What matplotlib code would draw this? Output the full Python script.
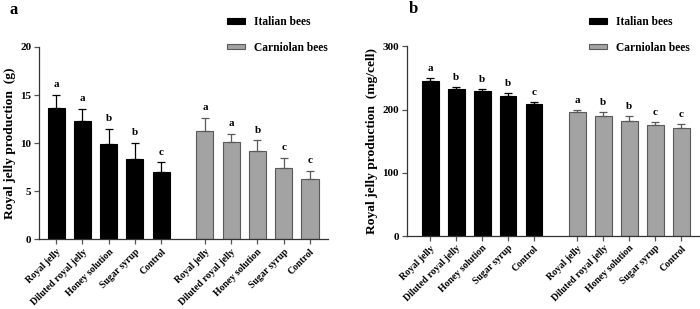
import numpy as np
import matplotlib
matplotlib.use("Agg")
import matplotlib.pyplot as plt

plt.rcParams['font.family'] = ['Liberation Serif', 'DejaVu Serif']
plt.rcParams['font.weight'] = 'bold'

treatments = ['Royal jelly', 'Diluted royal jelly', 'Honey solution', 'Sugar syrup', 'Control']

# panel a: royal jelly production (g)
a_italian = [13.7, 12.3, 9.9, 8.4, 7.05]
a_italian_err = [1.3, 1.3, 1.55, 1.6, 0.95]
a_italian_sig = ['a', 'a', 'b', 'b', 'c']
a_carniolan = [11.25, 10.1, 9.2, 7.4, 6.25]
a_carniolan_err = [1.35, 0.85, 1.1, 1.05, 0.9]
a_carniolan_sig = ['a', 'a', 'b', 'c', 'c']

# panel b: royal jelly production (mg/cell)
b_italian = [245.5, 232.5, 229.0, 222.0, 208.5]
b_italian_err = [4.0, 3.0, 4.0, 3.5, 3.0]
b_italian_sig = ['a', 'b', 'b', 'b', 'c']
b_carniolan = [196.5, 189.5, 181.5, 175.0, 170.5]
b_carniolan_err = [3.5, 6.0, 8.5, 6.0, 7.0]
b_carniolan_sig = ['a', 'b', 'b', 'c', 'c']

black = '#000000'
grey = '#a3a3a3'
grey_edge = '#5a5a5a'
axis_col = '#333333'

fig = plt.figure(figsize=(7.0, 3.09), dpi=100)

pos_it = np.arange(5)
pos_ca = np.arange(5) + 5.67


def draw_panel(ax, it, it_err, it_sig, ca, ca_err, ca_sig, ymax, step, ylabel, xlim, off):
    # only the upper half of the error bar is drawn
    ax.bar(pos_it, it, width=0.65, color=black, edgecolor=black, linewidth=0.8,
           yerr=[np.zeros(5), it_err],
           error_kw=dict(ecolor=black, elinewidth=0.9, capsize=3.0, capthick=0.9),
           label='Italian bees', zorder=2)
    ax.bar(pos_ca, ca, width=0.65, color=grey, edgecolor=grey_edge, linewidth=0.8,
           yerr=[np.zeros(5), ca_err],
           error_kw=dict(ecolor=grey_edge, elinewidth=0.9, capsize=3.0, capthick=0.9),
           label='Carniolan bees', zorder=2)
    # significance letters
    for x, v, e, s in zip(pos_it, it, it_err, it_sig):
        ax.text(x, v + e + off, s, ha='center', va='bottom', fontsize=8, fontweight='bold')
    for x, v, e, s in zip(pos_ca, ca, ca_err, ca_sig):
        ax.text(x, v + e + off, s, ha='center', va='bottom', fontsize=8, fontweight='bold')

    ax.set_ylim(0, ymax)
    ax.set_yticks(np.arange(0, ymax + 1, step))
    ax.set_xlim(*xlim)
    ax.set_xticks(np.concatenate([pos_it, pos_ca]))
    ax.set_xticklabels(treatments + treatments, rotation=45, ha='right',
                       rotation_mode='anchor', fontsize=7, fontweight='bold')
    for lab in ax.get_yticklabels():
        lab.set_fontweight('bold')
        lab.set_fontsize(8)
    ax.set_ylabel(ylabel, fontsize=9.7, fontweight='bold', labelpad=3)
    for sp in ['top', 'right']:
        ax.spines[sp].set_visible(False)
    for sp in ['left', 'bottom']:
        ax.spines[sp].set_color(axis_col)
        ax.spines[sp].set_linewidth(0.9)
    ax.tick_params(axis='both', direction='out', length=3.5, width=0.9, color='#555555', pad=2)


ax1 = fig.add_axes([0.0557, 0.225, 0.413, 0.623])
draw_panel(ax1, a_italian, a_italian_err, a_italian_sig,
           a_carniolan, a_carniolan_err, a_carniolan_sig,
           20, 5, 'Royal jelly production  (g)', (-0.65, 10.36), 0.6)

ax2 = fig.add_axes([0.581, 0.236, 0.418, 0.614])
draw_panel(ax2, b_italian, b_italian_err, b_italian_sig,
           b_carniolan, b_carniolan_err, b_carniolan_sig,
           300, 100, 'Royal jelly production  (mg/cell)', (-0.9, 10.36), 8)

# legends placed in figure coordinates
for ax, lx in [(ax1, 0.324), (ax2, 0.841)]:
    h, l = ax.get_legend_handles_labels()
    fig.legend(h, l, loc='upper left', bbox_to_anchor=(lx, 0.947), frameon=False,
               borderpad=0, borderaxespad=0,
               handlelength=1.6, handleheight=0.4, labelspacing=1.15,
               handletextpad=0.75, prop=dict(weight='bold', size=8.3))

fig.text(0.019, 0.968, 'a', fontsize=12, fontweight='bold', va='center', ha='center')
fig.text(0.59, 0.972, 'b', fontsize=12, fontweight='bold', va='center', ha='center')

fig.savefig('out.png', dpi=100)
